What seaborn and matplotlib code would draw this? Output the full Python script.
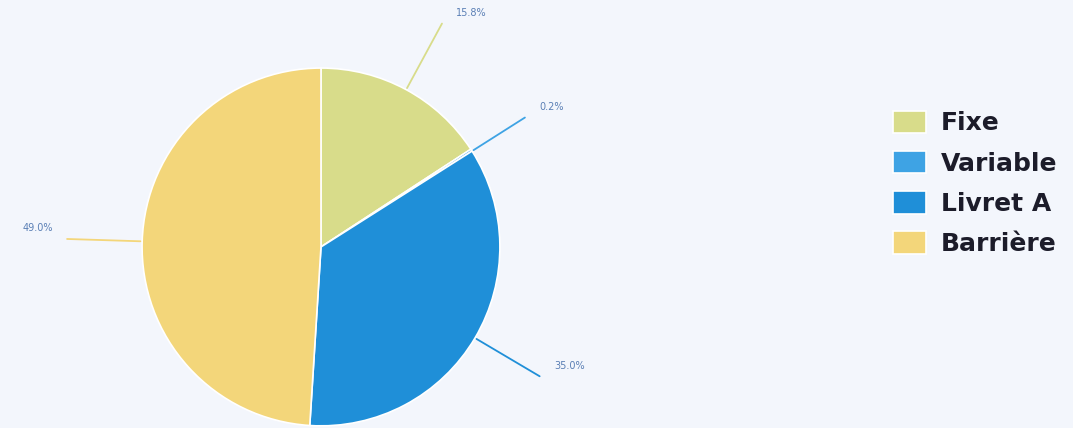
import numpy as np
import matplotlib
matplotlib.use("Agg")
import matplotlib.pyplot as plt
import seaborn as sns

# ---- data ----
labels = ["Fixe", "Variable", "Livret A", "Barrière"]
shares = [15.8, 0.2, 35.0, 49.0]
colors = ["#d8dc8a", "#3ea3e4", "#1f8fd8", "#f3d67a"]

sns.set_theme(style="white")
plt.rcParams["font.family"] = ["DejaVu Sans"]

bg = "#f3f6fc"
fig = plt.figure(figsize=(10.73, 4.28), dpi=100, facecolor=bg)
ax = fig.add_axes([0.1323, 0.005, 0.3337, 0.836])
ax.set_facecolor(bg)

wedges, _ = ax.pie(shares, colors=sns.color_palette(colors), startangle=90,
                   counterclock=False, radius=1,
                   wedgeprops=dict(linewidth=1.2, edgecolor="white"))
ax.set_xlim(-1, 1)
ax.set_ylim(-1, 1)
ax.axis("off")

# leader lines + small percentage labels
ends = {0: 1.42, 1: 1.35, 2: 1.42, 3: 1.42}
for i, w in enumerate(wedges):
    if i == 1:
        ang = np.deg2rad(w.theta1)
    else:
        ang = np.deg2rad((w.theta1 + w.theta2) / 2)
    x0, y0 = np.cos(ang) * 1.01, np.sin(ang) * 1.01
    r1 = ends[i]
    x1, y1 = np.cos(ang) * r1, np.sin(ang) * r1
    ax.plot([x0, x1], [y0, y1], color=colors[i], lw=1.3, clip_on=False)
    if x1 >= 0:
        tx, ha = x1 + 0.08, "left"
    else:
        tx, ha = x1 - 0.08, "right"
    ax.annotate(f"{shares[i]:.1f}%", (tx, y1 + 0.06), ha=ha, va="center",
                fontsize=7, color="#5a7fb5", annotation_clip=False)

leg = fig.legend(wedges, labels, loc="upper left", bbox_to_anchor=(0.814, 0.788),
                 frameon=False, fontsize=18, handlelength=1.3, handleheight=1.0,
                 labelspacing=0.62, handletextpad=0.6, borderpad=0.3)
for t in leg.get_texts():
    t.set_fontweight("bold")
    t.set_color("#1c1c2a")

fig.savefig("out.png", dpi=100, facecolor=bg)
